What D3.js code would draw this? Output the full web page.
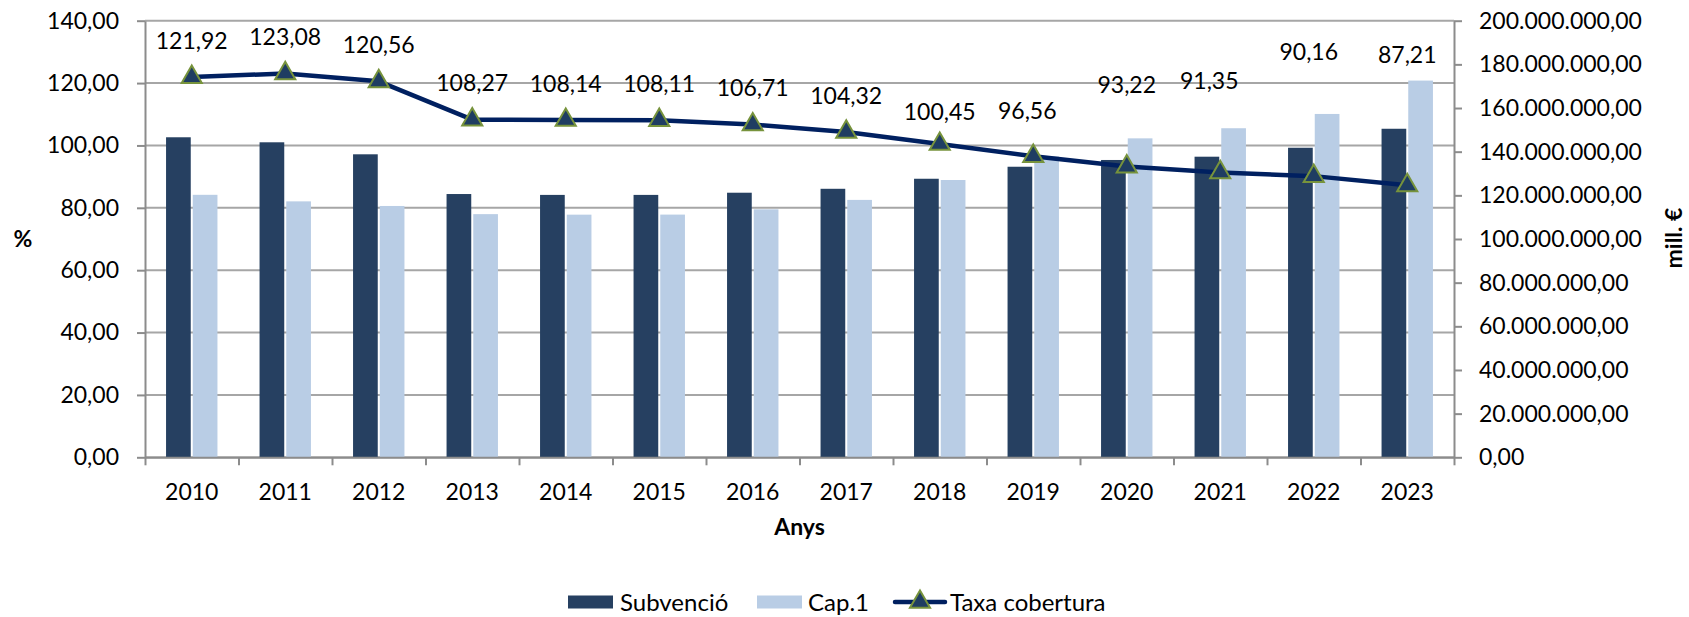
<!DOCTYPE html>
<html>
<head>
<meta charset="utf-8">
<script src="https://cdn.jsdelivr.net/npm/d3@7"></script>
<style>
  body { margin: 0; background: #fff; }
  svg text { font-family: Lato, "Open Sans", sans-serif; fill: #000; }
</style>
</head>
<body>
<div id="chart"></div>
<script>
var years = ["2010","2011","2012","2013","2014","2015","2016","2017","2018","2019","2020","2021","2022","2023"];
// euros
var subvencio = [146600000,144300000,138800000,120600000,120200000,120200000,121200000,123000000,127600000,133100000,136200000,137700000,141800000,150500000];
var cap1 = [120240000,117240000,115130000,111390000,111150000,111180000,113580000,117910000,127030000,137840000,146110000,150740000,157280000,172570000];
// %
var taxa = [121.92,123.08,120.56,108.27,108.14,108.11,106.71,104.32,100.45,96.56,93.22,91.35,90.16,87.21];

var leftTicks = [0,20,40,60,80,100,120,140];
var rightTicks = [0,20e6,40e6,60e6,80e6,100e6,120e6,140e6,160e6,180e6,200e6];

// label nudges (layout only), px
var labelLift = [0,0,0,0,0,0,0,0,-4,8.5,45,55,88,94];
var labelShift = [0,0,0,0,0,0,0,0,0,-6,0,-11,-5,0];

var width = 1689, height = 617;
var pLeft = 145, pRight = 1454, pTop = 20.7, pBottom = 457.3;

var cat = d3.formatLocale({decimal: ",", thousands: ".", grouping: [3], currency: ["", " €"]});
var fmt = cat.format(",.2f");

var svg = d3.select("#chart").append("svg")
    .attr("width", width).attr("height", height);

var x = d3.scaleBand().domain(years).range([pLeft, pRight]);
var xi = d3.scaleLinear().domain([0, years.length]).range([pLeft, pRight]);
var bw = x.bandwidth();
var x1 = d3.scaleBand().domain(["sub","cap"])
    .range([bw/2 - 25.7, bw/2 + 25.7]).paddingInner(0.075);
var yL = d3.scaleLinear().domain([0,140]).range([pBottom, pTop]);
var yR = d3.scaleLinear().domain([0,200e6]).range([pBottom, pTop]);

// gridlines
svg.append("g").selectAll("line").data(leftTicks).enter().append("line")
    .attr("x1", pLeft).attr("x2", pRight)
    .attr("y1", function(d){ return yL(d); }).attr("y2", function(d){ return yL(d); })
    .attr("stroke", "#a6a6a6").attr("stroke-width", 2);

// bars
var groups = svg.append("g").selectAll("g").data(years).enter().append("g")
    .attr("transform", function(d){ return "translate(" + x(d) + ",0)"; });

groups.append("rect")
    .attr("x", x1("sub")).attr("width", x1.bandwidth())
    .attr("y", function(d,i){ return yR(subvencio[i]); })
    .attr("height", function(d,i){ return pBottom - yR(subvencio[i]); })
    .attr("fill", "#264061");

groups.append("rect")
    .attr("x", x1("cap")).attr("width", x1.bandwidth())
    .attr("y", function(d,i){ return yR(cap1[i]); })
    .attr("height", function(d,i){ return pBottom - yR(cap1[i]); })
    .attr("fill", "#b9cde5");

// axes
function styleAxis(g){
  g.selectAll("path.domain").attr("stroke", "#8c8c8c").attr("stroke-width", 2);
  g.selectAll(".tick line").attr("stroke", "#8c8c8c").attr("stroke-width", 2);
  g.selectAll(".tick text").style("font-family", "Lato").style("font-size", "23px").attr("fill", "#000");
}

svg.append("g").attr("transform", "translate(" + pLeft + ",0)")
    .call(d3.axisLeft(yL).tickValues(leftTicks).tickFormat(fmt).tickSize(8).tickSizeOuter(0).tickPadding(18))
    .call(styleAxis);

svg.append("g").attr("transform", "translate(" + pRight + ",0)")
    .call(d3.axisRight(yR).tickValues(rightTicks).tickFormat(fmt).tickSize(8).tickSizeOuter(0).tickPadding(17))
    .call(styleAxis);

svg.append("g").attr("transform", "translate(0," + pBottom + ")")
    .call(d3.axisBottom(xi).tickValues(d3.range(years.length + 1)).tickFormat("").tickSize(8).tickSizeOuter(0))
    .call(styleAxis);

svg.append("g").attr("transform", "translate(0," + pBottom + ")")
    .call(d3.axisBottom(x).tickSize(0).tickPadding(26.4))
    .call(function(g){ g.select("path.domain").remove(); })
    .call(styleAxis);

// line
var line = d3.line()
    .x(function(d,i){ return x(years[i]) + bw/2; })
    .y(function(d){ return yL(d); });

svg.append("path").datum(taxa)
    .attr("d", line).attr("fill", "none")
    .attr("stroke", "#002060").attr("stroke-width", 4.5)
    .attr("stroke-linejoin", "round");

var tri = d3.symbol().type(d3.symbolTriangle).size(175);
svg.append("g").selectAll("path").data(taxa).enter().append("path")
    .attr("d", tri)
    .attr("transform", function(d,i){ return "translate(" + (x(years[i]) + bw/2) + "," + yL(d) + ")"; })
    .attr("fill", "#1f3d62").attr("stroke", "#77933c").attr("stroke-width", 2);

// data labels
svg.append("g").selectAll("text").data(taxa).enter().append("text")
    .attr("x", function(d,i){ return x(years[i]) + bw/2 + labelShift[i]; })
    .attr("y", function(d,i){ return yL(d) - 36.5 - labelLift[i]; })
    .attr("dy", "0.36em")
    .attr("text-anchor", "middle")
    .style("font-size", "23px")
    .text(function(d){ return fmt(d); });

// axis titles
svg.append("text").attr("x", 23).attr("y", 239).attr("dy", "0.36em")
    .attr("text-anchor", "middle").style("font-size", "23px").style("font-weight", "bold").text("%");
svg.append("text").attr("transform", "translate(1674,238) rotate(-90)").attr("dy", "0.36em")
    .attr("text-anchor", "middle").style("font-size", "23px").style("font-weight", "bold").text("mill. €");
svg.append("text").attr("x", (pLeft + pRight) / 2).attr("y", 535)
    .attr("text-anchor", "middle").style("font-size", "23px").style("font-weight", "bold").text("Anys");

// legend
var lg = svg.append("g").attr("transform", "translate(0,602)");
lg.append("rect").attr("x", 568).attr("y", -6.5).attr("width", 45).attr("height", 13).attr("fill", "#264061");
lg.append("text").attr("x", 620).attr("dy", "0.36em").style("font-size", "24px").text("Subvenció");
lg.append("rect").attr("x", 757).attr("y", -6.5).attr("width", 45).attr("height", 13).attr("fill", "#b9cde5");
lg.append("text").attr("x", 808).attr("dy", "0.36em").style("font-size", "24px").text("Cap.1");
lg.append("line").attr("x1", 895).attr("x2", 945).attr("stroke", "#002060")
    .attr("stroke-width", 4.5).attr("stroke-linecap", "round");
lg.append("path").attr("d", tri).attr("transform", "translate(920,0)")
    .attr("fill", "#1f3d62").attr("stroke", "#77933c").attr("stroke-width", 2);
lg.append("text").attr("x", 950).attr("dy", "0.36em").style("font-size", "24px").text("Taxa cobertura");
</script>
</body>
</html>
